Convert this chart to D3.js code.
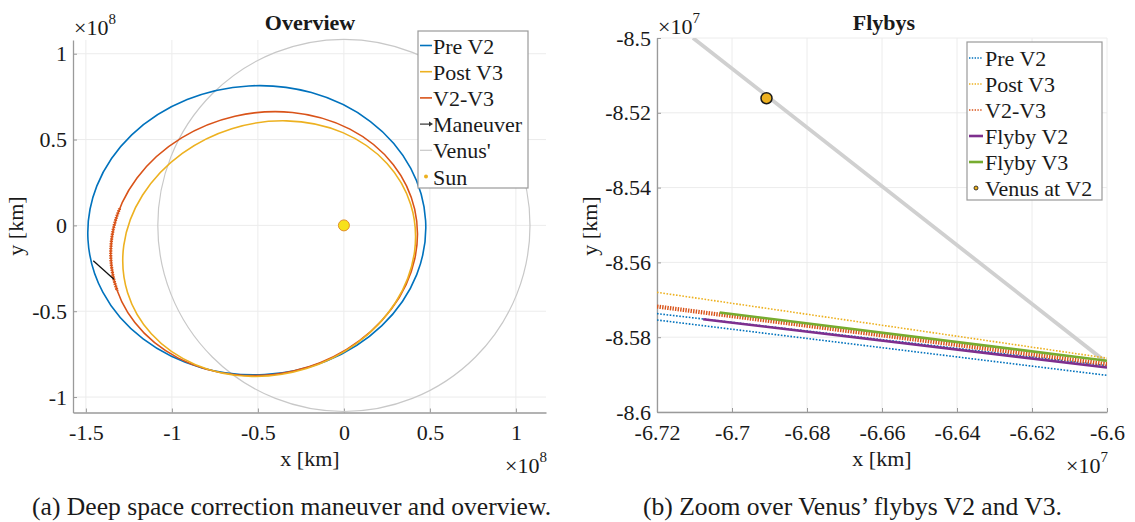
<!DOCTYPE html>
<html>
<head>
<meta charset="utf-8">
<script src="https://cdn.jsdelivr.net/npm/d3@7"></script>
<style>
  body { margin: 0; background: #fff; }
  svg text { font-family: "Liberation Serif", "DejaVu Serif", serif; fill: #1a1a1a; }
</style>
</head>
<body>
<svg id="fig" width="1135" height="522"></svg>
<script>
// ---- panel (a) overview, units of 1e8 km ----
const orbitNames = ["Pre V2", "Post V3", "V2-V3"];
const orbitA = [0.983, 0.862, 0.898];   // semi-major axis
const orbitE = [0.516, 0.528, 0.530];   // eccentricity
const orbitW = [3.2, 17.3, 12.9];       // perihelion direction (deg)
const venusRadius = 1.082;
const maneuverFrom = [-1.457, -0.206];
const maneuverTo = [-1.337, -0.314];
const sunPos = [0, 0];
const xTicksA = [-1.5, -1, -0.5, 0, 0.5, 1];
const yTicksA = [-1, -0.5, 0, 0.5, 1];
const legendA = ["Pre V2", "Post V3", "V2-V3", "Maneuver", "Venus'", "Sun"];

// ---- panel (b) flybys, units of 1e7 km ----
const preV2X = [-6.72, -6.60];
const preV2Y1 = [-8.5737, -8.5876];
const preV2Y2 = [-8.5754, -8.5902];
const postV3X = [-6.72, -6.60];
const postV3Y = [-8.5680, -8.5856];
const v2v3X = [-6.72, -6.60];
const v2v3Y = [-8.5718, -8.5872];
const flybyV2X = [-6.7077, -6.60];
const flybyV2Y = [-8.5752, -8.5881];
const flybyV3X = [-6.7033, -6.60];
const flybyV3Y = [-8.5734, -8.5863];
const venusTrackX = [-6.7104, -6.6003];
const venusTrackY = [-8.5000, -8.5866];
const venusAtV2 = [-6.6908, -8.5161];
const xTicksB = [-6.72, -6.70, -6.68, -6.66, -6.64, -6.62, -6.60];
const yTicksB = [-8.60, -8.58, -8.56, -8.54, -8.52, -8.50];
const legendB = ["Pre V2", "Post V3", "V2-V3", "Flyby V2", "Flyby V3", "Venus at V2"];

// matlab default colours
const C = { blue: "#0072BD", orange: "#EDB120", red: "#D95319", purple: "#7E2F8E", green: "#77AC30", gray: "#c8c8c8" };
const SERIF = "'Liberation Serif', 'DejaVu Serif', serif";

const svg = d3.select("#fig");
const fmt = d => String(+d.toFixed(2));   // keeps plain hyphen minus like matlab

// scales
const xA = d3.scaleLinear().domain([-1.575, 1.175]).range([73, 546]);
const yA = d3.scaleLinear().domain([-1.09, 1.08]).range([412.5, 40]);
const xB = d3.scaleLinear().domain([-6.72, -6.60]).range([657, 1107]);
const yB = d3.scaleLinear().domain([-8.60, -8.50]).range([412, 38]);

function drawAxes(x, y, xt, yt) {
  const [l, r] = x.range(), [b, t] = y.range();
  const g = svg.append("g");
  // grid
  g.selectAll(".gx").data(xt).join("line")
    .attr("x1", d => x(d)).attr("x2", d => x(d)).attr("y1", t).attr("y2", b)
    .attr("stroke", "#ececec").attr("stroke-width", 1);
  g.selectAll(".gy").data(yt).join("line")
    .attr("y1", d => y(d)).attr("y2", d => y(d)).attr("x1", l).attr("x2", r)
    .attr("stroke", "#ececec").attr("stroke-width", 1);

  const ax = g.append("g").attr("transform", `translate(0,${b})`)
    .call(d3.axisBottom(x).tickValues(xt).tickFormat(fmt).tickSize(-4).tickSizeOuter(0).tickPadding(12));
  const ay = g.append("g").attr("transform", `translate(${l},0)`)
    .call(d3.axisLeft(y).tickValues(yt).tickFormat(fmt).tickSize(-4).tickSizeOuter(0).tickPadding(6));
  [ax, ay].forEach(a => {
    a.attr("font-family", SERIF).attr("font-size", 22);
    a.select(".domain").attr("stroke", "#9a9a9a").attr("stroke-width", 1.3);
    a.selectAll(".tick line").attr("stroke", "#9a9a9a");
    a.selectAll("text").attr("fill", "#1a1a1a");
  });
  return g;
}

function expLabel(x, y, exp, anchor) {
  const t = svg.append("text").attr("x", x).attr("y", y).attr("font-size", 22).attr("text-anchor", anchor);
  t.append("tspan").text("\u00d710");
  t.append("tspan").attr("font-size", 15).attr("dy", -11).text(exp);
}

function legend(x0, y0, w, h, rowStart, rowStep, textX, names, drawKey) {
  const g = svg.append("g");
  g.append("rect").attr("x", x0).attr("y", y0).attr("width", w).attr("height", h)
    .attr("fill", "#fff").attr("stroke", "#9a9a9a").attr("stroke-width", 1.2);
  names.forEach((n, i) => {
    const cy = rowStart + i * rowStep;
    drawKey(g, i, cy);
    g.append("text").attr("x", textX).attr("y", cy + 8)
      .attr("font-size", 22).text(n);
  });
}

// ================= panel (a) =================
drawAxes(xA, yA, xTicksA, yTicksA);
const pa = svg.append("g");

// Venus orbit
pa.append("circle").attr("cx", xA(0)).attr("cy", yA(0))
  .attr("r", xA(venusRadius) - xA(0))
  .attr("fill", "none").attr("stroke", C.gray).attr("stroke-width", 1.2);

const orbitColors = [C.blue, C.orange, C.red];
function orbitEllipse(g, i) {
  const a = orbitA[i], e = orbitE[i], w = orbitW[i] * Math.PI / 180;
  const cx = -a * e * Math.cos(w), cy = -a * e * Math.sin(w);
  const b = a * Math.sqrt(1 - e * e);
  return g.append("ellipse")
    .attr("cx", xA(cx)).attr("cy", yA(cy))
    .attr("rx", xA(a) - xA(0)).attr("ry", yA(0) - yA(b))
    .attr("transform", `rotate(${-orbitW[i]},${xA(cx)},${yA(cy)})`)
    .attr("fill", "none").attr("stroke", orbitColors[i]);
}
[0, 2, 1].forEach(i => orbitEllipse(pa, i).attr("stroke-width", 1.6));

// thick dotted red stretch around the maneuver
svg.append("clipPath").attr("id", "manClip").append("rect")
  .attr("x", xA(-1.5)).attr("y", yA(0.1))
  .attr("width", xA(-1.2) - xA(-1.5)).attr("height", yA(-0.38) - yA(0.1));
orbitEllipse(pa.append("g").attr("clip-path", "url(#manClip)"), 2)
  .attr("stroke-width", 3.2).attr("stroke-dasharray", "1.4 1");

// maneuver
pa.append("line")
  .attr("x1", xA(maneuverFrom[0])).attr("y1", yA(maneuverFrom[1]))
  .attr("x2", xA(maneuverTo[0])).attr("y2", yA(maneuverTo[1]))
  .attr("stroke", "#111").attr("stroke-width", 1.3);

// Sun
pa.append("circle").attr("cx", xA(sunPos[0])).attr("cy", yA(sunPos[1])).attr("r", 5.5)
  .attr("fill", "#f7e11b").attr("stroke", "#e0902a").attr("stroke-width", 1);

svg.append("text").attr("x", 310).attr("y", 30).attr("text-anchor", "middle")
  .attr("font-size", 22).attr("font-weight", "bold").text("Overview");
svg.append("text").attr("x", 310).attr("y", 466).attr("text-anchor", "middle")
  .attr("font-size", 22).text("x [km]");
svg.append("text").attr("transform", "translate(23,226) rotate(-90)").attr("text-anchor", "middle")
  .attr("font-size", 22).text("y [km]");
expLabel(74, 35, "8", "start");
expLabel(547, 473, "8", "end");

legend(418, 31, 110, 157, 45.5, 26.2, 433, legendA, (g, i, cy) => {
  const x1 = 420, x2 = 432;
  if (i < 3) g.append("line").attr("x1", x1).attr("x2", x2).attr("y1", cy).attr("y2", cy)
      .attr("stroke", orbitColors[i]).attr("stroke-width", 1.6);
  else if (i === 3) {
    g.append("line").attr("x1", x1).attr("x2", x2 - 1).attr("y1", cy).attr("y2", cy)
      .attr("stroke", "#333").attr("stroke-width", 1.2);
    g.append("path").attr("d", `M${x2 + 1},${cy} l-4,-2.5 v5 z`).attr("fill", "#333");
  } else if (i === 4) g.append("line").attr("x1", x1).attr("x2", x2).attr("y1", cy).attr("y2", cy)
      .attr("stroke", C.gray).attr("stroke-width", 1.2);
  else g.append("circle").attr("cx", 426).attr("cy", cy).attr("r", 2).attr("fill", C.orange);
});

// ================= panel (b) =================
drawAxes(xB, yB, xTicksB, yTicksB);
svg.append("clipPath").attr("id", "clipB").append("rect")
  .attr("x", 657).attr("y", 38).attr("width", 450).attr("height", 374);
const pb = svg.append("g").attr("clip-path", "url(#clipB)");
const line = d3.line().x(d => xB(d[0])).y(d => yB(d[1]));
const seg = (xs, ys) => xs.map((v, i) => [v, ys[i]]);

pb.append("path").attr("d", line(seg(venusTrackX, venusTrackY)))
  .attr("fill", "none").attr("stroke", "#d0d0d0").attr("stroke-width", 3.8);
pb.append("path").attr("d", line(seg(preV2X, preV2Y1)))
  .attr("fill", "none").attr("stroke", C.blue).attr("stroke-width", 1.6).attr("stroke-dasharray", "1.6 1.6");
pb.append("path").attr("d", line(seg(preV2X, preV2Y2)))
  .attr("fill", "none").attr("stroke", C.blue).attr("stroke-width", 1.6).attr("stroke-dasharray", "1.6 1.6");
pb.append("path").attr("d", line(seg(postV3X, postV3Y)))
  .attr("fill", "none").attr("stroke", C.orange).attr("stroke-width", 1.6).attr("stroke-dasharray", "1.6 1.6");
pb.append("path").attr("d", line(seg(v2v3X, v2v3Y)))
  .attr("fill", "none").attr("stroke", C.red).attr("stroke-width", 4.2).attr("stroke-dasharray", "1.4 1.2");
pb.append("path").attr("d", line(seg(flybyV2X, flybyV2Y)))
  .attr("fill", "none").attr("stroke", C.purple).attr("stroke-width", 2.6);
pb.append("path").attr("d", line(seg(flybyV3X, flybyV3Y)))
  .attr("fill", "none").attr("stroke", C.green).attr("stroke-width", 2.6);
pb.append("circle").attr("cx", xB(venusAtV2[0])).attr("cy", yB(venusAtV2[1])).attr("r", 5.5)
  .attr("fill", C.orange).attr("stroke", "#1a1a1a").attr("stroke-width", 1.5);

svg.append("text").attr("x", 884).attr("y", 30).attr("text-anchor", "middle")
  .attr("font-size", 22).attr("font-weight", "bold").text("Flybys");
svg.append("text").attr("x", 882).attr("y", 466).attr("text-anchor", "middle")
  .attr("font-size", 22).text("x [km]");
svg.append("text").attr("transform", "translate(597,226) rotate(-90)").attr("text-anchor", "middle")
  .attr("font-size", 22).text("y [km]");
expLabel(658, 34, "7", "start");
expLabel(1108, 473, "7", "end");

const keyB = [C.blue, C.orange, C.red, C.purple, C.green];
legend(967, 42, 135, 158, 58, 26, 985, legendB, (g, i, cy) => {
  if (i < 3) g.append("line").attr("x1", 969).attr("x2", 983).attr("y1", cy).attr("y2", cy)
      .attr("stroke", keyB[i]).attr("stroke-width", 1.4).attr("stroke-dasharray", "1.4 1.4");
  else if (i < 5) g.append("line").attr("x1", 969).attr("x2", 983).attr("y1", cy).attr("y2", cy)
      .attr("stroke", keyB[i]).attr("stroke-width", 2.6);
  else g.append("circle").attr("cx", 976).attr("cy", cy).attr("r", 2)
      .attr("fill", C.orange).attr("stroke", "#111").attr("stroke-width", 0.8);
});

// captions
svg.append("text").attr("x", 32).attr("y", 515).attr("font-size", 25.6)
  .text("(a) Deep space correction maneuver and overview.");
svg.append("text").attr("x", 643).attr("y", 515).attr("font-size", 25.6)
  .text("(b) Zoom over Venus\u2019 flybys V2 and V3.");
</script>
</body>
</html>
